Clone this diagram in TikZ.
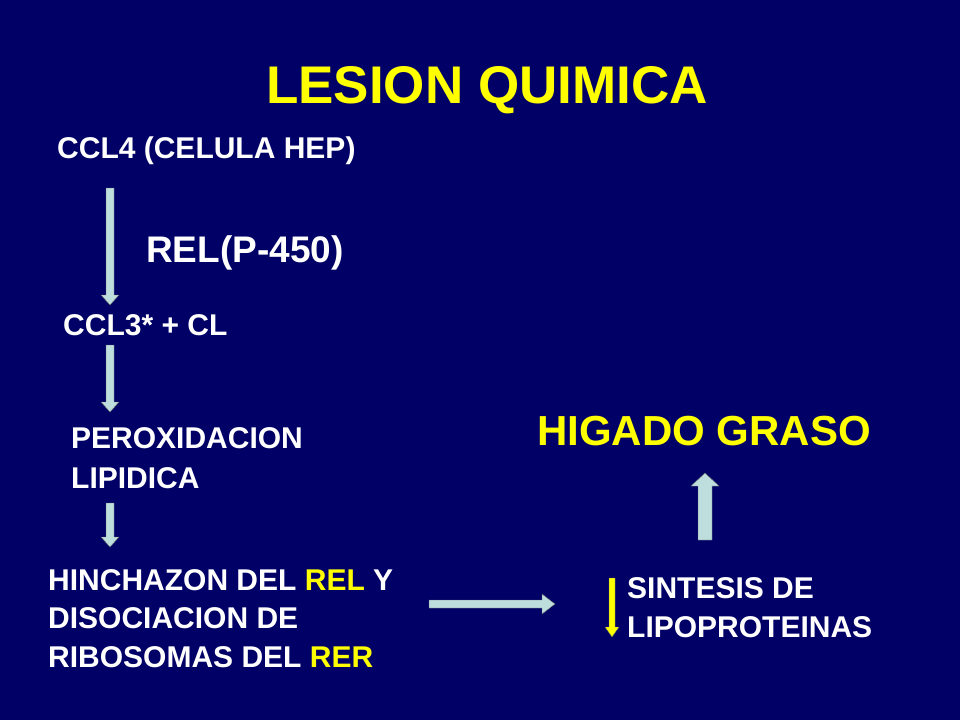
\documentclass[tikz,border=0pt]{standalone}
\usepackage{fontspec}
\setmainfont{Liberation Sans}
\definecolor{bg}{RGB}{0,0,102}
\definecolor{arr}{RGB}{190,222,222}
\definecolor{yel}{RGB}{255,255,0}
% vertical down block arrow: x, ytop, ybottom, half shaft, half head, head length
\newcommand{\vdarrow}[7]{\filldraw[fill=#7,draw=black!60,line width=0.4pt] (#1-#4,#2) -- (#1+#4,#2) -- (#1+#4,#3-#6) -- (#1+#5,#3-#6) -- (#1,#3) -- (#1-#5,#3-#6) -- (#1-#4,#3-#6) -- cycle;}
\begin{document}
\begin{tikzpicture}[x=1pt,y=-1pt,
  txt/.style={anchor=base west,inner sep=0,text=white,font=\bfseries\fontsize{30}{30}\selectfont},
]
\fill[bg] (0,0) rectangle (960,720);
\useasboundingbox (0,0) rectangle (960,720);
\node[anchor=base,inner sep=0,text=yel,font=\bfseries\fontsize{53}{53}\selectfont] (title) at (487,103) {LESION QUIMICA};
\node[txt] (ccl4) at (57,158) {CCL4 (CELULA HEP)};
\node[txt,font=\bfseries\fontsize{37}{37}\selectfont] (rel) at (146,262) {REL(P-450)};
\node[txt] (ccl3) at (63,335) {CCL3* + CL};
\node[txt] (per1) at (71,448) {PEROXIDACION};
\node[txt] (per2) at (71,488) {LIPIDICA};
\node[txt] (hin1) at (48,590) {HINCHAZON\ DEL \textcolor{yel}{REL} Y};
\node[txt] (hin2) at (48,628) {DISOCIACION\ DE};
\node[txt] (hin3) at (48,667) {RIBOSOMAS\ DEL \textcolor{yel}{RER}};
\node[txt] (sin1) at (627,598) {SINTESIS DE};
\node[txt] (sin2) at (627,637) {LIPOPROTEINAS};
\node[txt,text=yel,font=\bfseries\fontsize{42}{42}\selectfont] (hig) at (537,445) {HIGADO GRASO};
\vdarrow{110}{188}{305}{4}{9}{10}{arr}
\vdarrow{110}{345}{412}{4}{9}{10}{arr}
\vdarrow{110}{503}{547}{4}{9}{10}{arr}
\vdarrow{612}{578}{637}{3}{7}{10}{yel}
% horizontal right
\filldraw[fill=arr,draw=black!60,line width=0.4pt] (429,600) -- (542,600) -- (542,594) -- (555,604) -- (542,614) -- (542,608) -- (429,608) -- cycle;
% up arrow
\filldraw[fill=arr,draw=black!60,line width=0.4pt] (698,540) -- (712,540) -- (712,486) -- (719,486) -- (705,473) -- (691,486) -- (698,486) -- cycle;
\end{tikzpicture}
\end{document}
